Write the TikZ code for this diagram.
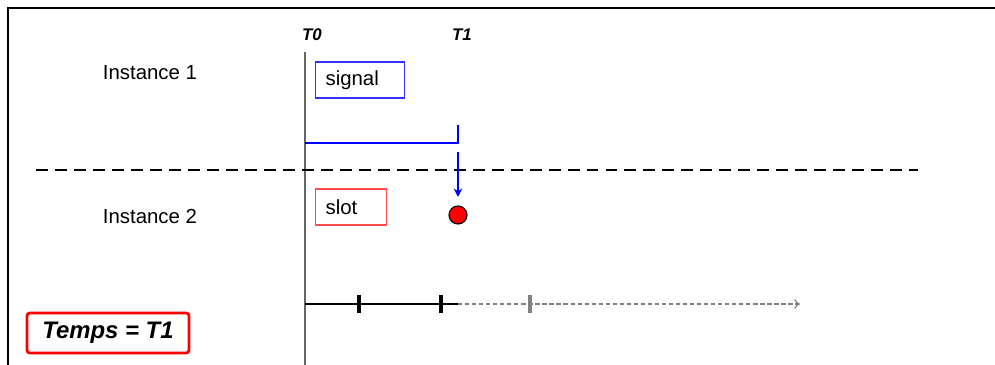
\documentclass[tikz,border=0pt]{standalone}
\usepackage{fontspec}
\setmainfont{Liberation Sans}
\usepackage{tikz}
\usetikzlibrary{arrows.meta}

\begin{document}
\begin{tikzpicture}[x = 0.025cm, y = -0.025cm, line width = 1pt,
                        lbl/.style = {font = \fontsize{14.5}{16}\selectfont},
                        tlbl/.style = {font = \fontsize{12}{14}\selectfont\bfseries\itshape},
                        msgbox/.style = {draw, line width = 0.8pt, anchor = west, minimum height = 0.9cm,
                                         inner xsep = 0.25cm, align = left, font = \fontsize{14.5}{16}\selectfont},
                        tick/.style = {line width = 2.2pt},
                        sigline/.style = {draw = blue, line width = 2pt}]
      \useasboundingbox (0, 0) rectangle (995, 365);
      \draw [line width = 1.6pt] (8, 365) -- (8, 8) -- (995, 8);

      \node [lbl] (inst1) at (150, 73){Instance 1};
      \node [lbl] (inst2) at (150, 216){Instance 2};
      \node [tlbl] (t0) at (312, 35){T0};
      \node [tlbl] (t1) at (462, 35){T1};

      \coordinate (top0) at (305, 52);
      \coordinate (bot0) at (305, 365);
      \draw [draw = black!60, line width = 1pt] (top0) -- (bot0);

      \node [msgbox, draw = blue!80, text width = 1.725cm] (signal) at (315, 80){signal};
      \node [msgbox, draw = red!70, text width = 1.275cm] (slot) at (315, 207){slot};

      \coordinate (s0) at (305, 143);
      \coordinate (s1) at (458, 143);
      \coordinate (s2) at (458, 125);
      \draw [sigline] (s0) -- (s1) -- (s2);

      \draw [line width = 2pt, dash pattern = on 8.5pt off 5pt] (36, 170) coordinate (d0) -- (918, 170) coordinate (d1);

      \node [circle, draw, fill = red, line width = 0.8pt, minimum size = 0.45cm, inner sep = 0pt] (dot) at (458, 215){};
      \coordinate (a0) at (458, 152);
      \coordinate (a1) at (458, 197);
      \draw [draw = blue, line width = 1pt, -{Stealth[length = 6pt, width = 6pt]}] (a0) -- (a1);

      \coordinate (tl0) at (305, 304);
      \coordinate (tl1) at (458, 304);
      \coordinate (tl2) at (800, 304);
      \draw [line width = 0.8pt] (tl0) -- (tl1);
      \draw [draw = black!50, line width = 0.8pt, dash pattern = on 3pt off 2pt, -{To[length = 4pt, width = 7pt]}] (tl1) -- (tl2);
      \foreach \x in {359, 441}
        \draw [tick] (\x, 295) -- (\x, 313);
      \draw [tick, draw = black!50] (530, 295) -- (530, 313);

      \node [draw = red, line width = 2pt, rounded corners = 2pt, minimum width = 4.05cm, minimum height = 1cm,
             font = \fontsize{17}{19}\selectfont\bfseries\itshape] (temps) at (108, 333){Temps = T1};
      \end{tikzpicture}
\end{document}
